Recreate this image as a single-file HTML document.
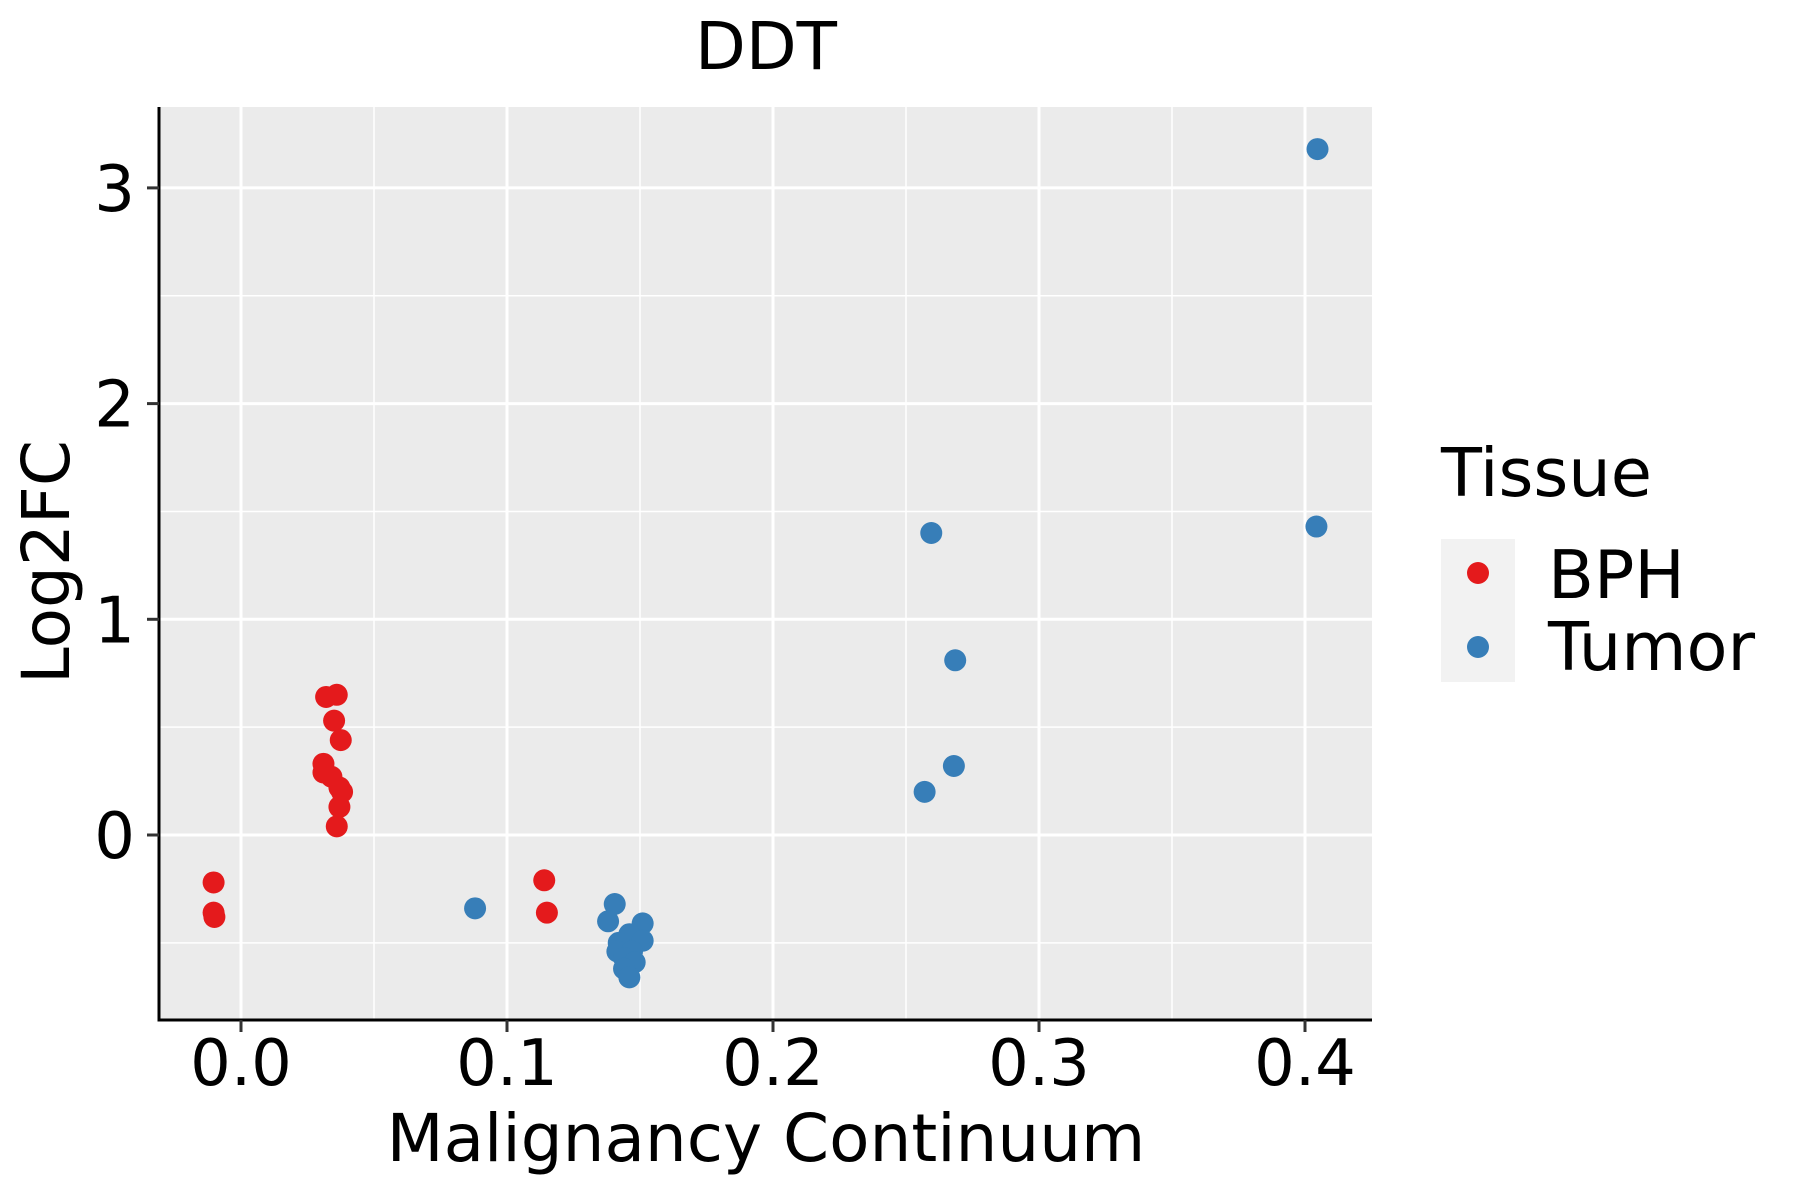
<!DOCTYPE html>
<html><head><meta charset="utf-8"><style>body{margin:0;background:#fff}svg{display:block}text{font-family:"DejaVu Sans","Liberation Sans",sans-serif;fill:#000}</style></head>
<body>
<svg id="chart" width="1800" height="1200" viewBox="0 0 1800 1200" xmlns="http://www.w3.org/2000/svg">
<rect x="159" y="107" width="1213" height="913" fill="#ebebeb"/>
<g id="grid"></g>
<g id="points"></g>
<line x1="159" y1="107" x2="159" y2="1021.5" stroke="#000" stroke-width="3"/>
<line x1="157.5" y1="1020" x2="1372" y2="1020" stroke="#000" stroke-width="3"/>
<g id="ticks"></g>
<text x="766" y="69" font-size="66" text-anchor="middle">DDT</text>
<text x="766" y="1161" font-size="66" text-anchor="middle">Malignancy Continuum</text>
<text transform="translate(69,562) rotate(-90)" font-size="66" text-anchor="middle">Log2FC</text>
<g>
<text x="1441" y="496" font-size="67">Tissue</text>
<rect x="1441" y="539" width="74" height="143" fill="#f2f2f2"/>
<circle cx="1478" cy="573" r="11" fill="#e41a1c"/>
<circle cx="1478" cy="647" r="11" fill="#377eb8"/>
<text x="1548" y="598" font-size="67">BPH</text>
<text x="1548" y="670" font-size="67">Tumor</text>
</g>
</svg>
<script>
const xTicks=[0,0.1,0.2,0.3,0.4];
const xTickLabels=["0.0","0.1","0.2","0.3","0.4"];
const yTicks=[0,1,2,3];
const yTickLabels=["0","1","2","3"];
const bphX=[-0.0103,-0.0103,-0.0100,0.032,0.036,0.035,0.0375,0.031,0.031,0.034,0.037,0.038,0.037,0.036,0.114,0.115];
const bphY=[-0.22,-0.36,-0.38,0.64,0.65,0.53,0.44,0.33,0.29,0.27,0.22,0.20,0.13,0.04,-0.21,-0.36];
const tumorX=[0.088,0.1405,0.138,0.151,0.146,0.142,0.151,0.1415,0.147,0.144,0.148,0.144,0.146,0.2595,0.2685,0.268,0.257,0.4047,0.4043];
const tumorY=[-0.34,-0.32,-0.40,-0.41,-0.46,-0.50,-0.49,-0.54,-0.54,-0.57,-0.59,-0.62,-0.66,1.40,0.81,0.32,0.20,3.18,1.43];
const NS="http://www.w3.org/2000/svg";
const L=159,R=1372,T=107,B=1020;
const xs=v=>241+v*2660;
const ys=v=>835-v*215.7;
function mk(tag,attrs,parent){const e=document.createElementNS(NS,tag);for(const k in attrs)e.setAttribute(k,attrs[k]);parent.appendChild(e);return e;}
const grid=document.getElementById('grid');
[-0.5,0.5,1.5,2.5].forEach(v=>{const l=mk('line',{x1:L,x2:R,y1:ys(v),y2:ys(v),stroke:'#fff','stroke-width':1.5},grid);

});
[0.05,0.15,0.25,0.35].forEach(v=>{const l=mk('line',{x1:xs(v),x2:xs(v),y1:T,y2:B,stroke:'#fff','stroke-width':1.5},grid);

});
const ticks=document.getElementById('ticks');
yTicks.forEach((v,i)=>{const l=mk('line',{x1:L,x2:R,y1:ys(v),y2:ys(v),stroke:'#fff','stroke-width':3},grid);


const t=mk('line',{x1:L-12,x2:L,y1:ys(v),y2:ys(v),stroke:'#333','stroke-width':3},ticks);


const tx=mk('text',{x:135,y:ys(v)+23,'font-size':64,'text-anchor':'end'},ticks);tx.textContent=yTickLabels[i];

});
xTicks.forEach((v,i)=>{const l=mk('line',{x1:xs(v),x2:xs(v),y1:T,y2:B,stroke:'#fff','stroke-width':3},grid);


const t=mk('line',{x1:xs(v),x2:xs(v),y1:B,y2:B+12,stroke:'#333','stroke-width':3},ticks);


const tx=mk('text',{x:xs(v),y:1085,'font-size':64,'text-anchor':'middle'},ticks);tx.textContent=xTickLabels[i];

});
const pts=document.getElementById('points');
bphX.forEach((x,i)=>{const c=mk('circle',{cx:xs(x),cy:ys(bphY[i]),r:11,fill:'#e41a1c'},pts);

});
tumorX.forEach((x,i)=>{const c=mk('circle',{cx:xs(x),cy:ys(tumorY[i]),r:11,fill:'#377eb8'},pts);

});
</script>
</body></html>
